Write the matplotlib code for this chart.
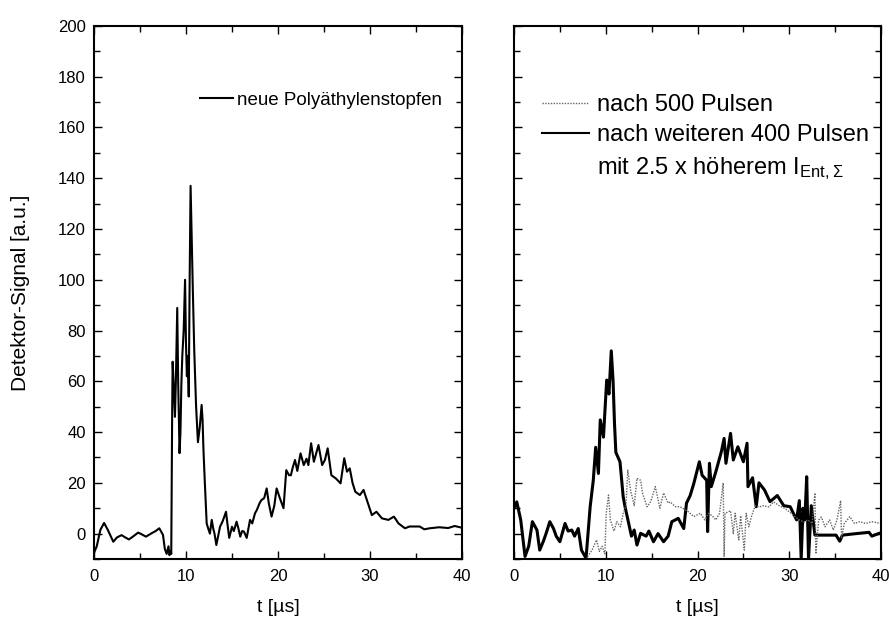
import numpy as np
import matplotlib.pyplot as plt
from matplotlib.lines import Line2D
from matplotlib.ticker import MultipleLocator

plt.rcParams['font.family'] = ['Liberation Sans', 'DejaVu Sans']
plt.rcParams['mathtext.fontset'] = 'custom'
plt.rcParams['mathtext.rm'] = 'Liberation Sans'

# === Daten ===
# linkes Bild: neue Polyäthylenstopfen
t_neu = [0.0, 0.3, 0.7, 1.1, 1.5, 2.1, 2.5, 3.0, 3.4, 3.8, 4.3, 4.8, 5.2, 5.65, 6.2, 6.7,
         7.1, 7.5, 7.7, 7.9, 8.1, 8.2, 8.35, 8.4, 8.5, 8.55, 8.65, 8.8, 8.9, 9.05, 9.15,
         9.3, 9.4, 9.5, 9.6, 9.75, 9.9, 10.0, 10.1, 10.2, 10.3, 10.4, 10.5, 10.6, 10.75,
         10.9, 11.1, 11.3, 11.5, 11.7, 11.8, 11.9, 12.05, 12.25, 12.4, 12.6, 12.8, 12.95,
         13.1, 13.3, 13.5, 13.7, 14.0, 14.35, 14.5, 14.7, 15.0, 15.2, 15.5, 15.7, 15.9,
         16.1, 16.3, 16.6, 16.96, 17.2, 17.5, 17.7, 18.0, 18.2, 18.5, 18.77, 19.0, 19.3,
         19.6, 19.85, 20.2, 20.6, 20.9, 21.2, 21.4, 21.6, 21.85, 22.1, 22.45, 22.8, 23.1,
         23.3, 23.6, 23.9, 24.1, 24.4, 24.8, 25.1, 25.4, 25.8, 26.3, 26.8, 27.2, 27.5,
         27.8, 28.1, 28.4, 28.9, 29.3, 29.6, 30.2, 30.7, 31.3, 32.0, 32.6, 33.1, 33.8,
         34.3, 35.4, 35.9, 36.5, 37.5, 38.5, 39.2, 40.0]
s_neu = [-7.6, -5, 1.5, 4.2, 1.5, -3.2, -1.5, -0.6, -1.5, -2.3, -1, 0.4, -0.3, -1.2, 0, 1,
         2.1, -0.5, -6, -8, -5, -8.5, -7, -8, 48.7, 67.7, 60, 46, 60, 88.9, 60,
         31.7, 40, 59, 70, 80, 100, 75, 62, 70, 54, 100, 137, 120, 95,
         72, 50, 36, 42, 50.7, 45, 33, 20, 4, 2.2, 0, 5.4, 2.2,
         0, -4.5, -1, 2.7, 5, 8.6, 4, -1.7, 2.7, 1, 4.7, 2, -1.2,
         1, 0.8, -1.7, 5.4, 4, 8, 9.3, 12, 13.2, 14, 17.8, 12, 6.7,
         11, 17.8, 14, 10, 25, 23, 23, 26, 29, 24.7, 31.6, 27, 29.5,
         27, 35.6, 28.3, 31, 34.9, 27, 29, 33.6, 23, 21.7, 19.8, 29.7, 24.4,
         25.7, 20, 16.5, 15.2, 17.2, 13.9, 7.3, 8.6, 6, 5.4, 6.7, 4, 2.1,
         2.8, 2.8, 1.7, 2.1, 2.5, 2.2, 3, 2.3]

# rechtes Bild: nach 500 Pulsen (punktiert)
t_500 = [7.85, 8.5, 9.0, 9.3, 9.6, 9.9, 10.05, 10.3, 10.5, 10.9, 11.2, 11.6, 11.9, 12.2,
         12.4, 12.7, 13.1, 13.4, 13.8, 14.0, 14.5, 14.9, 15.4, 15.9, 16.3, 16.8, 17.0,
         17.6, 18.1, 19.0, 19.6, 20.3, 20.8, 21.2, 21.6, 22.0, 22.4, 22.8, 22.9, 23.0,
         23.6, 23.9, 24.1, 24.5, 24.7, 25.1, 25.3, 25.6, 25.9, 26.3, 26.7, 27.2, 27.8,
         28.3, 28.9, 29.5, 30.0, 30.6, 31.1, 31.6, 32.0, 32.5, 32.8, 32.9, 33.2, 33.5,
         33.9, 34.4, 34.8, 35.2, 35.6, 35.7, 36.0, 36.6, 37.1, 37.7, 38.3, 39.0, 40.0]
s_500 = [-10, -6.5, -2.5, -7, -5, -8, 8, 15.2, 5.4, 1, 4.7, 2.7, 8, 11,
         25, 17.2, 11, 21.8, 21, 16, 10.6, 12.6, 18.5, 10, 16, 12, 12.5,
         10.6, 10.6, 8.6, 6.7, 8, 5.4, 8, 7, 5.4, 8, 20, -9, 8,
         9, 0, 8, -2.5, 7, -6.5, 8, 2.7, 7, 11, 10.5, 11, 10.5,
         12.5, 11, 10, 8.6, 6.7, 5.4, 4.5, 5.4, 4, 16, -8, 5.4, 6.5,
         2.7, 5.4, 1.4, 5.4, 13, -1.5, 4, 6.7, 4, 4.7, 4, 4.7, 4]

# rechtes Bild: nach weiteren 400 Pulsen (durchgezogen)
t_400 = [0.0, 0.3, 0.73, 1.2, 1.6, 2.0, 2.5, 2.8, 3.2, 3.5, 3.9, 4.3, 4.6, 5.0, 5.56, 5.9,
         6.3, 6.6, 7.0, 7.35, 7.85, 8.3, 8.64, 8.9, 9.2, 9.4, 9.75, 10.1, 10.35, 10.6,
         10.8, 10.95, 11.1, 11.55, 11.9, 12.1, 12.5, 12.8, 13.1, 13.4, 13.8, 14.4, 14.7,
         15.2, 15.7, 16.3, 16.8, 17.2, 17.9, 18.5, 18.8, 19.2, 19.6, 20.2, 20.5, 21.0,
         21.1, 21.3, 21.5, 22.0, 22.6, 22.9, 23.1, 23.6, 23.9, 24.4, 25.0, 25.4, 25.5,
         26.0, 26.4, 26.7, 27.3, 27.9, 28.7, 29.4, 30.1, 30.8, 31.1, 31.3, 31.5, 31.7,
         31.9, 32.1, 32.4, 32.8, 34.0, 35.1, 35.5, 35.8, 37.3, 38.7, 39.0, 39.8, 40.0]
s_400 = [10, 12.5, 5.4, -9, -5, 4.7, 1.4, -6.5, -3, 0.1, 4.7, 2, -1, -3.2, 4, 1,
         1.4, -1, 2, -6.5, -9.7, 10.6, 21, 34, 23.7, 44.8, 38, 60.5, 55, 72,
         60, 43.5, 32, 28.3, 14.5, 10.6, 4, -1, 1.4, -4.5, 0.1, -1, 1,
         -3.2, 0, -3.2, -1, 4.7, 6, 2, 12, 15, 19.8, 28.3, 23, 21,
         0.8, 27.7, 18.5, 24.4, 32.3, 37.5, 27.7, 39.5, 29, 34.2, 28.3, 35.6, 18.5,
         22, 10.6, 20, 17.2, 12.6, 15, 11, 10.6, 5.4, 13, -10, 10, 5.4,
         22.4, -10, 11, -0.6, -0.6, -0.6, -3, -0.6, 0, 0.5, -1, 0.1, 0.3]

# === Abbildung ===
fig = plt.figure(figsize=(8.89, 6.22), dpi=100)
ax1 = fig.add_axes([0.1057, 0.1013, 0.414, 0.857])
ax2 = fig.add_axes([0.5782, 0.1013, 0.4128, 0.857])

ax1.plot(t_neu, s_neu, color='black', lw=1.5, label='neue Polyäthylenstopfen')
ax2.plot(t_400, s_400, color='black', lw=2.2)
ax2.plot(t_500, s_500, color='0.4', lw=1.0, ls=(0, (1, 1)))

for ax in (ax1, ax2):
    ax.set_xlim(0, 40)
    ax.set_ylim(-10, 200)
    ax.xaxis.set_major_locator(MultipleLocator(10))
    ax.xaxis.set_minor_locator(MultipleLocator(5))
    ax.yaxis.set_major_locator(MultipleLocator(20))
    ax.yaxis.set_minor_locator(MultipleLocator(10))
    ax.tick_params(which='both', direction='in', top=True, right=True, width=1.0,
                   labelsize=12)
    ax.tick_params(which='major', length=6)
    ax.tick_params(which='minor', length=4)
    ax.tick_params(axis='x', pad=7)
    ax.tick_params(axis='y', pad=6)
    for sp in ax.spines.values():
        sp.set_linewidth(1.5)
    ax.set_xlabel('t [µs]', fontsize=14, labelpad=11)

ax1.set_yticks(np.arange(0, 201, 20))
ax2.set_yticks(np.arange(0, 201, 20))
ax2.tick_params(axis='y', labelleft=False)
ax1.set_ylabel('Detektor-Signal [a.u.]', fontsize=15, labelpad=20)

ax1.legend(loc='center left', bbox_to_anchor=(0.288, 0.861), frameon=False, fontsize=13.5,
           handlelength=1.76, handletextpad=0.2, borderpad=0, borderaxespad=0)

h_500 = Line2D([], [], color='0.4', lw=1.0, ls=(0, (1, 1)))
h_400 = Line2D([], [], color='black', lw=1.5)
h_mit = Line2D([], [], ls='none')
ax2.legend([h_500, h_400, h_mit],
           ['nach 500 Pulsen', 'nach weiteren 400 Pulsen',
            r'mit 2.5 x höherem $\mathregular{I_{Ent,\Sigma}}$'],
           loc='center left', bbox_to_anchor=(0.076, 0.79), frameon=False, fontsize=17,
           handlelength=2.0, handletextpad=0.32, labelspacing=0.36,
           borderpad=0, borderaxespad=0)

fig.savefig('out.png', dpi=100)
